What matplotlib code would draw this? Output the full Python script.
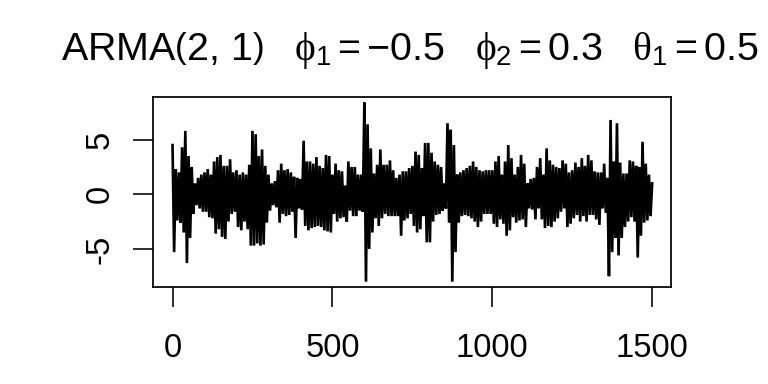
import matplotlib
matplotlib.use("Agg")
import matplotlib.pyplot as plt
import numpy as np

# Envelope of the simulated ARMA(2,1) series.
# peaks at t = 0, 10, 20, ..., 1500 ; troughs at t = 5, 15, ..., 1495
peaks = [
    4.5, 2.3, 2.0, 4.3, 5.8, 3.5, 2.5, 1.0, 1.5, 1.8,
    2.0, 2.3, 1.8, 3.0, 3.4, 3.6, 2.6, 2.6, 3.2, 2.0,
    2.2, 1.8, 2.0, 1.8, 2.7, 5.8, 5.5, 3.5, 4.1, 2.6,
    1.8, 1.0, 1.2, 2.2, 2.8, 2.2, 2.3, 2.0, 1.6, 1.5,
    1.4, 4.9, 3.0, 3.0, 2.8, 3.4, 2.6, 2.4, 3.6, 3.5,
    1.8, 2.8, 2.2, 2.1, 0.8, 3.0, 2.5, 2.5, 1.8, 1.8,
    8.4, 6.4, 4.2, 1.9, 2.7, 4.1, 2.7, 2.7, 3.1, 2.2,
    1.5, 1.8, 2.1, 2.1, 2.4, 2.6, 3.9, 3.6, 2.4, 4.7,
    4.7, 3.8, 3.0, 2.7, 2.5, 1.0, 6.5, 5.9, 4.5, 1.8,
    2.0, 2.2, 2.4, 2.6, 3.0, 2.5, 2.2, 2.1, 2.2, 2.2,
    2.2, 3.0, 3.5, 1.8, 3.0, 4.5, 3.3, 1.8, 2.5, 3.6,
    2.8, 1.0, 1.4, 1.5, 2.5, 3.3, 1.8, 4.2, 3.1, 2.7,
    2.5, 2.4, 3.1, 2.8, 2.0, 2.2, 2.9, 2.5, 3.3, 2.6,
    3.6, 3.1, 2.1, 2.0, 2.0, 2.8, 1.5, 6.8, 3.0, 6.5,
    2.9, 1.9, 1.9, 3.1, 3.0, 2.6, 2.5, 4.8, 2.8, 1.8,
    1.0,
]
troughs = [
    -5.3, -2.4, -2.6, -3.5, -6.3, -4.0, -1.8, -1.0, -1.3, -1.6,
    -1.6, -2.1, -2.2, -3.6, -3.2, -3.9, -4.1, -2.5, -1.8, -1.6,
    -3.0, -3.3, -2.5, -3.2, -4.7, -4.7, -4.5, -4.7, -4.6, -2.6,
    -1.5, -1.0, -1.2, -2.6, -1.8, -2.0, -1.9, -1.6, -4.0, -1.3,
    -1.4, -2.9, -3.3, -3.1, -3.0, -2.9, -3.0, -3.3, -3.4, -3.5,
    -1.8, -2.5, -2.2, -2.1, -2.5, -1.5, -2.0, -2.0, -1.5, -1.6,
    -8.0, -5.0, -3.5, -2.2, -2.9, -2.2, -1.8, -2.0, -2.0, -2.0,
    -2.0, -3.8, -2.4, -2.2, -1.8, -2.9, -3.5, -3.2, -2.0, -4.4,
    -4.4, -2.5, -1.9, -1.8, -1.5, -1.3, -2.6, -8.0, -5.3, -2.6,
    -2.0, -1.9, -2.0, -2.2, -2.5, -3.0, -2.5, -1.8, -1.8, -1.8,
    -2.7, -3.0, -2.3, -2.7, -3.8, -3.3, -2.1, -2.6, -2.4, -2.3,
    -3.0, -1.3, -1.4, -2.3, -1.3, -2.3, -3.1, -2.9, -3.0, -2.5,
    -2.2, -1.6, -1.3, -3.0, -2.7, -2.2, -1.9, -2.5, -2.0, -2.5,
    -1.9, -1.9, -2.3, -2.8, -1.3, -1.7, -7.5, -5.3, -4.0, -5.6,
    -4.0, -3.0, -2.5, -2.1, -2.5, -5.8, -3.8, -2.6, -2.4, -2.0,
]
step = 5
x_ticks = [0, 500, 1000, 1500]
y_ticks = [-5, 0, 5]
y_tick_labels = ["-5", "0", "5"]

series = np.empty(len(peaks) + len(troughs))
series[0::2] = peaks
series[1::2] = troughs
t = np.arange(len(series)) * step

plt.rcParams["font.family"] = ["Liberation Sans", "DejaVu Sans"]
plt.rcParams["mathtext.fontset"] = "custom"
plt.rcParams["mathtext.rm"] = "Liberation Sans"
plt.rcParams["mathtext.it"] = "Liberation Serif"
plt.rcParams["mathtext.bf"] = "Liberation Sans:bold"

fig = plt.figure(figsize=(8, 4), dpi=96)
ax = fig.add_axes([152.7 / 768, 1 - 286.7 / 384, (671 - 152.7) / 768, (286.7 - 97) / 384])
ax.plot(t, series, color="black", lw=2.0, solid_joinstyle="miter")
ax.set_xlim(-62, 1559)
ax.set_ylim(-8.46, 8.9)
ax.set_xticks(x_ticks)
ax.set_yticks(y_ticks)
ax.set_yticklabels(y_tick_labels, rotation=90, va="center")
ax.tick_params(axis="both", length=15, width=1.2, labelsize=24.5, direction="out")
ax.tick_params(axis="x", pad=20)
ax.tick_params(axis="y", pad=13)
for s in ax.spines.values():
    s.set_linewidth(1.3)

title = (r"$\mathrm{ARMA}\left(2,\,1\right)\ \ \ \phi_1=-0.5\ \ \ "
         r"\phi_2=0.3\ \ \ \theta_1=0.5$")
fig.text(410 / 768, 1 - 60 / 384, title, ha="center", va="baseline", fontsize=29.5)

fig.savefig("out.png", dpi=96)
